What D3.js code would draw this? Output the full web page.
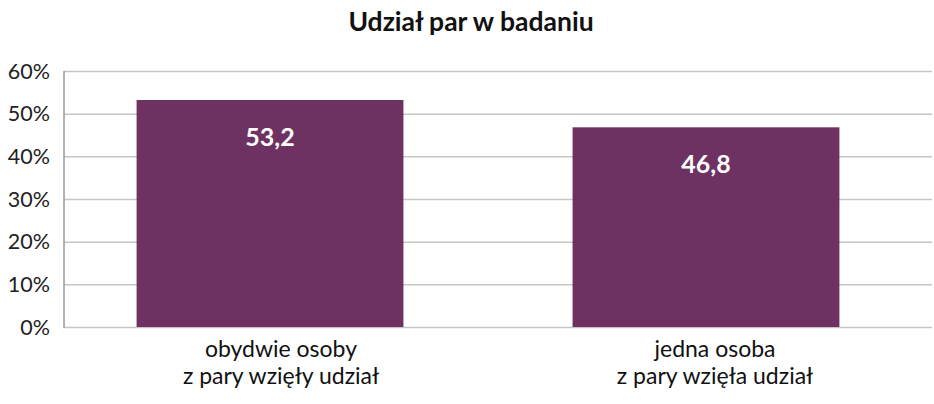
<!DOCTYPE html>
<html><head><meta charset="utf-8">
<script src="https://cdn.jsdelivr.net/npm/d3@7"></script>
<style>body{margin:0;background:#fff;font-family:Lato,"Open Sans",sans-serif;}</style>
</head><body><svg id="c" width="934" height="404"></svg>
<script>
const categories = [["obydwie osoby","z pary wzięły udział"],["jedna osoba","z pary wzięła udział"]];
const values = [53.2, 46.8];
const valueLabels = ["53,2","46,8"];
const yTicks = [0,10,20,30,40,50,60];
const title = "Udział par w badaniu";

const svg = d3.select("#c");
const x0 = 64, x1 = 932, yTop = 71, yBot = 327;
const y = d3.scaleLinear().domain([0,60]).range([yBot,yTop]);
const xl = d3.scaleBand().domain(d3.range(values.length)).range([x0,x1]);
const xb = d3.scaleBand().domain(d3.range(values.length)).range([52,924]).paddingInner(0.388).paddingOuter(0.194);

svg.append("text").attr("x",471).attr("y",31).attr("text-anchor","middle")
  .attr("font-size",26.5).attr("font-weight","bold").attr("fill","#111").text(title);

svg.append("g").selectAll("line").data(yTicks).join("line")
  .attr("x1",x0).attr("x2",x1).attr("y1",d=>y(d)+0.5).attr("y2",d=>y(d)+0.5)
  .attr("stroke","#c6c6c6").attr("stroke-width",1.5);

svg.append("g").selectAll("text").data(yTicks).join("text")
  .attr("x",50).attr("y",d=>y(d)+7.5).attr("text-anchor","end")
  .attr("font-size",21.5).attr("fill","#222").text(d=>d+"%");

svg.append("g").selectAll("rect").data(values).join("rect")
  .attr("x",(d,i)=>xb(i)).attr("width",xb.bandwidth())
  .attr("y",d=>y(d)).attr("height",d=>y(0)-y(d)).attr("fill","#6d3262");

svg.append("line").attr("x1",x0).attr("x2",x0).attr("y1",yTop).attr("y2",yBot+1)
  .attr("stroke","#999").attr("stroke-width",1.5);

svg.append("g").selectAll("text").data(values).join("text")
  .attr("x",(d,i)=>xb(i)+xb.bandwidth()/2).attr("y",d=>y(d)+46)
  .attr("text-anchor","middle").attr("font-size",25).attr("font-weight","bold")
  .attr("fill","#fff").text((d,i)=>valueLabels[i]);

const lab = svg.append("g").selectAll("text").data(categories).join("text")
  .attr("text-anchor","middle").attr("font-size",23).attr("fill","#111");
lab.each(function(d,i){
  const t = d3.select(this);
  d.forEach((s,j)=>t.append("tspan").attr("x",xl(i)+xl.bandwidth()/2).attr("y",357+j*27).text(s));
});
</script></body></html>
